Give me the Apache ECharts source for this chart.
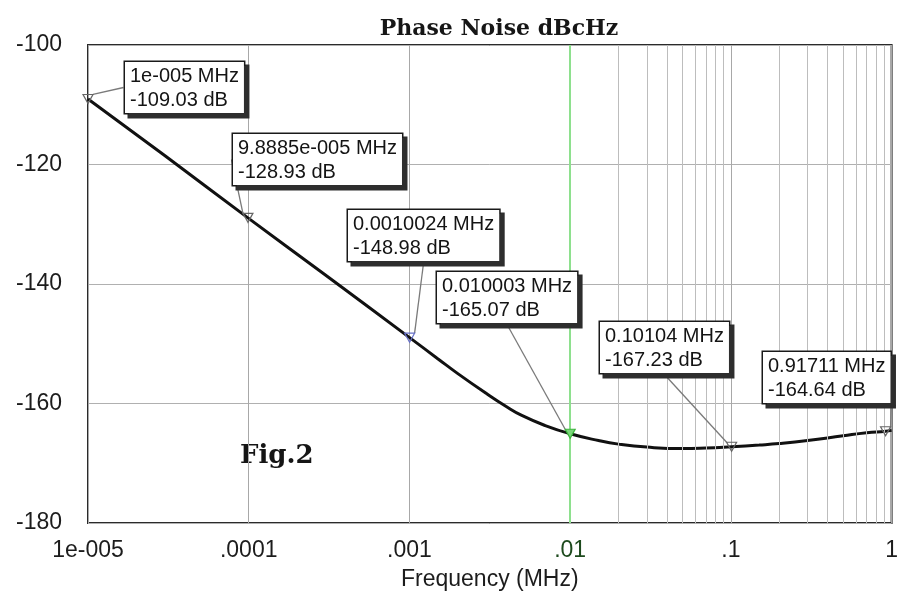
<!DOCTYPE html>
<html>
<head>
<meta charset="utf-8">
<script src="https://cdn.jsdelivr.net/npm/echarts@6/dist/echarts.min.js"></script>
<style>
  html, body { margin: 0; padding: 0; background: #fff; }
  #Chart { width: 901px; height: 606px; }
</style>
</head>
<body>
<div id="Chart"></div>
<script>
// curve
const freqMHz = [1e-5, 3e-5, 9.8885e-5, 3e-4, 0.0010024, 0.0015, 0.002, 0.003, 0.004, 0.005, 0.007, 0.010003, 0.015, 0.02, 0.03, 0.05, 0.07, 0.10104, 0.15, 0.2, 0.3, 0.5, 0.7, 0.91711, 1]
const noiseDb = [-109.03, -118.5, -128.93, -138.5, -148.98, -152.5, -155.0, -158.3, -160.5, -162.0, -163.7, -165.07, -166.2, -166.8, -167.3, -167.55, -167.45, -167.23, -166.95, -166.7, -166.2, -165.4, -164.9, -164.64, -164.5]

// marker readouts
const markerFreq = [1e-5, 9.8885e-5, 0.0010024, 0.010003, 0.10104, 0.91711]
const markerDb = [-109.03, -128.93, -148.98, -165.07, -167.23, -164.64]
const markerFreqText = ["1e-005", "9.8885e-005", "0.0010024", "0.010003", "0.10104", "0.91711"]

const xTickLabels = { "-5": "1e-005", "-4": ".0001", "-3": ".001", "-2": ".01", "-1": ".1", "0": "1" }
const cursorFreq = 0.01

// box top-left corners (pixels)
const boxAt = [[125, 62], [233, 134], [348, 210], [437, 272], [600, 322], [763, 352]]

// minor log grid lines 2..9 per decade
const minorLines = []
for (let k = -5; k < 0; k++) {
  for (let m = 2; m <= 9; m++) minorLines.push({ xAxis: m * Math.pow(10, k) })
}

const sans = "'Liberation Sans', Arial, sans-serif"
const serif = "'DejaVu Serif', 'Liberation Serif', serif"

const chart = echarts.init(document.getElementById("Chart"), null, { renderer: "canvas" })

let option = {
  animation: false,
  backgroundColor: "#fff",
  title: {
    text: "Phase Noise dBcHz",
    left: 494,
    textAlign: "center",
    top: 13,
    textStyle: { fontFamily: serif, fontWeight: "bold", fontSize: 22, color: "#161616" }
  },
  grid: {
    left: 88,
    right: 2,
    top: 45,
    bottom: 83,
    show: true,
    borderColor: "#2a2a2a",
    borderWidth: 2
  },
  xAxis: {
    type: "log",
    logBase: 10,
    min: 1e-5,
    max: 1,
    name: "Frequency (MHz)",
    nameLocation: "middle",
    nameGap: 45,
    nameTextStyle: { fontFamily: sans, fontSize: 23, color: "#1c1c1c" },
    axisLine: { show: false },
    axisTick: { show: false },
    axisLabel: {
      margin: 16,
      fontFamily: sans,
      fontSize: 23,
      color: "#1c1c1c",
      formatter: (v) => {
        const t = xTickLabels[Math.round(Math.log10(v))]
        return t === ".01" ? "{g|" + t + "}" : t
      },
      rich: { g: { fontFamily: sans, fontSize: 23, color: "#1d4a1d" } }
    },
    splitLine: { show: true, lineStyle: { color: "#a8a8a8", width: 1 } }
  },
  yAxis: {
    type: "value",
    min: -180,
    max: -100,
    interval: 20,
    axisLine: { show: false },
    axisTick: { show: false },
    axisLabel: { margin: 26, fontFamily: sans, fontSize: 23, color: "#1c1c1c" },
    splitLine: { show: true, lineStyle: { color: "#b0b0b0", width: 1 } }
  },
  graphic: [
    {
      type: "text",
      left: 240,
      top: 443,
      style: { text: "Fig.2", fontFamily: serif, fontWeight: "bold", fontSize: 26, fill: "#151515" }
    }
  ],
  series: [
    {
      // grid lines drawn on the axis scale
      type: "line",
      data: [],
      silent: true,
      markLine: {
        silent: true,
        symbol: "none",
        label: { show: false },
        lineStyle: { color: "#bdbdbd", width: 1, type: "solid" },
        data: minorLines.concat([
          { xAxis: cursorFreq, lineStyle: { color: "#8ee08e", width: 2, type: "solid" } }
        ])
      }
    },
    {
      name: "Phase Noise",
      type: "line",
      smooth: 0.5,
      showSymbol: false,
      lineStyle: { color: "#111", width: 3 },
      data: freqMHz.map((f, i) => [f, noiseDb[i]]),
      z: 3
    },
    {
      name: "Markers",
      type: "scatter",
      symbol: "triangle",
      symbolRotate: 180,
      symbolSize: [10, 9],
      itemStyle: { color: "rgba(255,255,255,0)", borderColor: "#666", borderWidth: 1.2, opacity: 1 },
      data: markerFreq.map((f, i) => {
        const item = { value: [f, markerDb[i]] }
        if (i === 2) item.itemStyle = { borderColor: "#6670c8" }
        if (i === 3) item.itemStyle = { borderColor: "#3cb43c", color: "#7bd67b" }
        return item
      }),
      label: {
        show: true,
        position: "right",
        formatter: (p) => markerFreqText[p.dataIndex] + " MHz\n" + markerDb[p.dataIndex].toFixed(2) + " dB",
        fontFamily: sans,
        fontSize: 20,
        lineHeight: 24,
        color: "#141414",
        align: "left",
        opacity: 1,
        backgroundColor: "#fff",
        borderColor: "#1a1a1a",
        borderWidth: 1.5,
        padding: [2, 5, 1, 5],
        shadowColor: "#2e2e2e",
        shadowOffsetX: 4,
        shadowOffsetY: 4,
        shadowBlur: 0
      },
      labelLine: { show: true, lineStyle: { color: "#7a7a7a", width: 1.3, opacity: 1 } },
      labelLayout: (params) => ({
        x: boxAt[params.dataIndex][0],
        y: boxAt[params.dataIndex][1],
        align: "left",
        verticalAlign: "top"
      }),
      z: 5
    }
  ]
}
chart.setOption(option)
</script>
</body>
</html>
